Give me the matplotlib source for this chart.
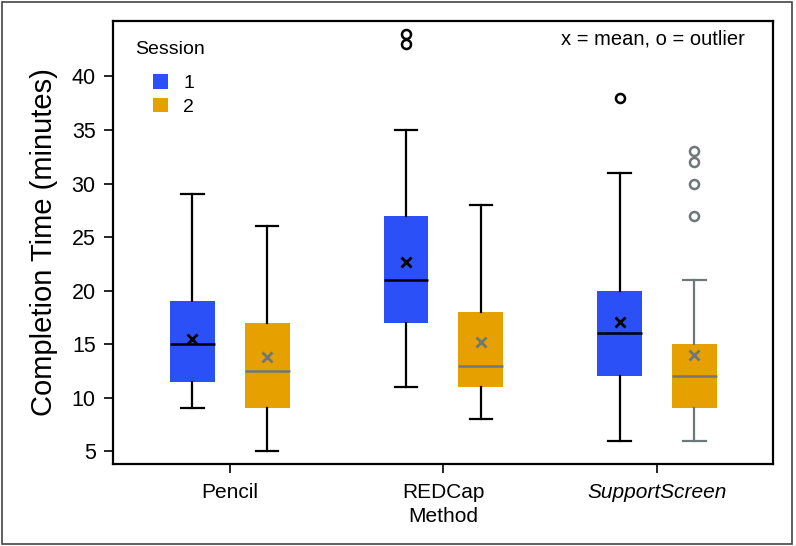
import numpy as np
import matplotlib.pyplot as plt
from matplotlib.patches import Patch, Rectangle

plt.rcParams['font.family'] = ['Liberation Sans', 'DejaVu Sans']

# data (minutes)
methods = ['Pencil', 'REDCap', 'SupportScreen']
sessions = ['1', '2']

s1_whislo = [9, 11, 6]
s1_q1 = [11.5, 17, 12]
s1_med = [15, 21, 16]
s1_q3 = [19, 27, 20]
s1_whishi = [29, 35, 31]
s1_mean = [15.5, 22.7, 17.1]
s1_fliers = [[], [43, 44], [38]]

s2_whislo = [5, 8, 6]
s2_q1 = [9, 11, 9]
s2_med = [12.5, 13, 12]
s2_q3 = [17, 18, 15]
s2_whishi = [26, 28, 21]
s2_mean = [13.8, 15.2, 14.0]
s2_fliers = [[], [], [27, 30, 32, 33]]

blue = '#2c50f7'
orange = '#e6a000'
gray = '#6e7878'


def make_stats(whislo, q1, med, q3, whishi, mean, fliers):
    return [dict(whislo=a, q1=b, med=c, q3=d, whishi=e, mean=f, fliers=g)
            for a, b, c, d, e, f, g in zip(whislo, q1, med, q3, whishi, mean, fliers)]


fig = plt.figure(figsize=(7.96, 5.46), dpi=100)
ax = fig.add_axes([0.142, 0.150, 0.829, 0.812])

x = np.arange(1, len(methods) + 1)
off = 0.175
bw = 0.21

stats1 = make_stats(s1_whislo, s1_q1, s1_med, s1_q3, s1_whishi, s1_mean, s1_fliers)
stats2 = make_stats(s2_whislo, s2_q1, s2_med, s2_q3, s2_whishi, s2_mean, s2_fliers)

ax.bxp(stats1, positions=x - off, widths=bw, capwidths=bw / 2,
       patch_artist=True, showmeans=True, manage_ticks=False,
       boxprops=dict(facecolor=blue, edgecolor='none'),
       whiskerprops=dict(color='black', lw=1.6),
       capprops=dict(color='black', lw=1.6),
       medianprops=dict(color='black', lw=1.8),
       meanprops=dict(marker='x', markeredgecolor='black', markersize=7.5, markeredgewidth=2),
       flierprops=dict(marker='o', markerfacecolor='none', markeredgecolor='black',
                       markersize=6.5, markeredgewidth=1.8))

b2 = ax.bxp(stats2, positions=x + off, widths=bw, capwidths=bw / 2,
            patch_artist=True, showmeans=True, manage_ticks=False,
            boxprops=dict(facecolor=orange, edgecolor='none'),
            whiskerprops=dict(color='black', lw=1.6),
            capprops=dict(color='black', lw=1.6),
            medianprops=dict(color=gray, lw=1.8),
            meanprops=dict(marker='x', markeredgecolor=gray, markersize=7.5, markeredgewidth=2),
            flierprops=dict(marker='o', markerfacecolor='none', markeredgecolor=gray,
                            markersize=6.5, markeredgewidth=1.8))
# SupportScreen session 2 whiskers are gray
for ln in b2['whiskers'][4:6] + b2['caps'][4:6]:
    ln.set_color(gray)

ax.set_xlim(0.453, 3.543)
ax.set_ylim(3.8, 45.2)
ax.set_yticks([5, 10, 15, 20, 25, 30, 35, 40])
ax.set_xticks(x)
ax.set_xticklabels(methods, fontsize=15)
ax.get_xticklabels()[2].set_style('italic')
ax.tick_params(axis='y', labelsize=15.5, length=6.5, width=1.2, pad=6)
ax.tick_params(axis='x', length=6.5, width=1.2, pad=7)
for s in ax.spines.values():
    s.set_linewidth(1.6)

ax.set_xlabel('Method', fontsize=15, labelpad=4)
ax.set_ylabel('Completion Time (minutes)', fontsize=21, labelpad=10)

# legend
ax.text(0.034, 0.936, 'Session', transform=ax.transAxes, fontsize=14, va='center', ha='left')
handles = [Patch(facecolor=blue, edgecolor='none'), Patch(facecolor=orange, edgecolor='none')]
ax.legend(handles, sessions, loc='upper left', bbox_to_anchor=(0.04, 0.91), frameon=False,
          fontsize=14, handlelength=0.75, handleheight=0.75, handletextpad=0.8,
          labelspacing=0.3, borderpad=0.2)

ax.text(0.9575, 0.958, 'x = mean, o = outlier', transform=ax.transAxes, fontsize=14.5,
        ha='right', va='center')

fig.patches.append(Rectangle((2 / 796, 2 / 546), 790 / 796, 542 / 546, transform=fig.transFigure,
                             fill=False, edgecolor='#444444', lw=1.2))

fig.savefig('out.png', dpi=100)
